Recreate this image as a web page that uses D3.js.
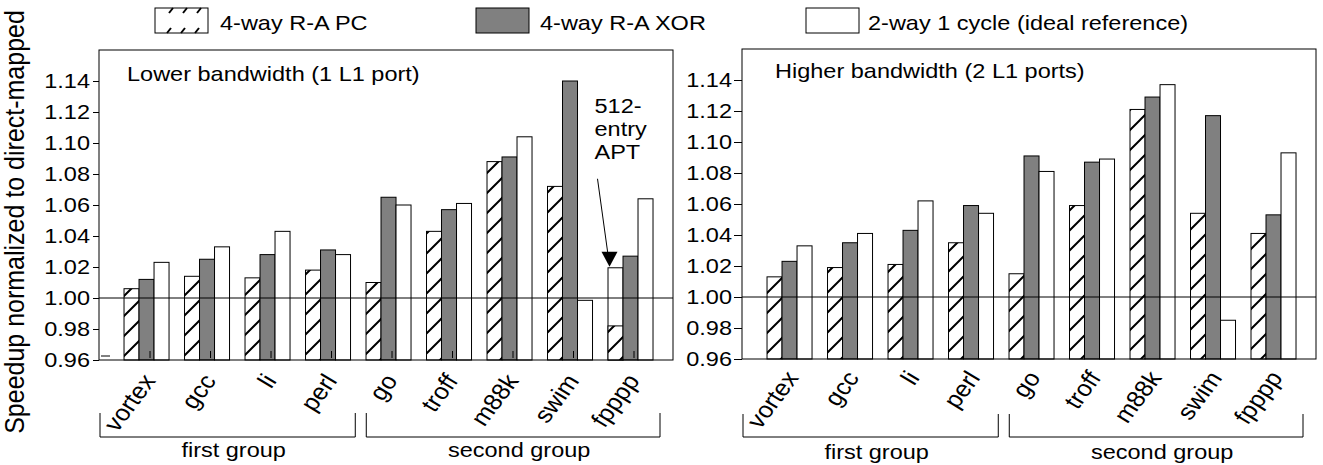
<!DOCTYPE html>
<html>
<head>
<meta charset="utf-8">
<script src="https://cdn.jsdelivr.net/npm/d3@7"></script>
<style>
  body { margin: 0; background: #fff; }
  text { font-family: "Liberation Sans", Arial, Helvetica, sans-serif; fill: #000; }
</style>
</head>
<body>
<div id="canvas"></div>
<script>
"use strict";

/* Configuration variables: drawing */
let svgWidth = 1323;
let svgHeight = 465;
let stretch = 1.12; // the original figure is a bit wider than tall
let fontSize = 21;

/* Data */
let categories = ["vortex", "gcc", "li", "perl", "go", "troff", "m88k", "swim", "fpppp"];
let seriesNames = ["4-way R-A PC", "4-way R-A XOR", "2-way 1 cycle (ideal reference)"];
let groupNames = ["first group", "second group"];
let groupFirst = ["vortex", "go"];
let groupLast = ["perl", "fpppp"];
let panelTitles = ["Lower bandwidth (1 L1 port)", "Higher bandwidth (2 L1 ports)"];
let yTicks = [0.96, 0.98, 1.00, 1.02, 1.04, 1.06, 1.08, 1.10, 1.12, 1.14];

let lowPC = [1.006, 1.014, 1.013, 1.018, 1.010, 1.043, 1.088, 1.072, 0.982];
let lowXOR = [1.012, 1.025, 1.028, 1.031, 1.065, 1.057, 1.091, 1.140, 1.027];
let lowIdeal = [1.023, 1.033, 1.043, 1.028, 1.060, 1.061, 1.104, 0.9985, 1.064];

let highPC = [1.013, 1.019, 1.021, 1.035, 1.015, 1.059, 1.121, 1.054, 1.041];
let highXOR = [1.023, 1.035, 1.043, 1.059, 1.091, 1.087, 1.129, 1.117, 1.053];
let highIdeal = [1.033, 1.041, 1.062, 1.054, 1.081, 1.089, 1.137, 0.985, 1.093];

/* 512-entry APT result for fpppp, lower bandwidth */
let aptCategory = "fpppp";
let aptValue = 1.0195;
let aptLines = ["512-", "entry", "APT"];

let fills = ["url(#hatch)", "#808080", "#ffffff"];

/* Create drawing canvas */
let svg = d3.select("#canvas")
  .append("svg")
  .attr("width", svgWidth)
  .attr("height", svgHeight);

/* Hatch pattern */
let pattern = svg.append("defs").append("pattern")
  .attr("id", "hatch")
  .attr("patternUnits", "userSpaceOnUse")
  .attr("width", 20)
  .attr("height", 20);
pattern.append("rect")
  .attr("width", 20)
  .attr("height", 20)
  .attr("fill", "#fff");
pattern.append("path")
  .attr("d", "M0,20 L20,0 M-3,3 L3,-3 M17,23 L23,17")
  .attr("stroke", "#000")
  .attr("stroke-width", 2);

/* helper: text that is stretched sideways like the source */
function putText(parent, x, y, str, anchor, extra, size) {
  return parent.append("text")
    .attr("transform", "translate(" + x + "," + y + ") scale(" + stretch + ",1)" + (extra || ""))
    .attr("text-anchor", anchor || "start")
    .attr("font-size", (size || fontSize) + "px")
    .text(str);
}

/* Legend */
let legendBoxX = [155, 476, 806];
let legendTextX = [220, 540, 868];
for (let i = 0; i < seriesNames.length; i = i + 1) {
  svg.append("rect")
    .attr("x", legendBoxX[i])
    .attr("y", 8)
    .attr("width", 53)
    .attr("height", 25)
    .attr("fill", i === 0 ? "#fff" : fills[i])
    .attr("stroke", "#000")
    .attr("stroke-width", 1);
  if (i === 0) {
    for (let k = 0; k < 3; k = k + 1) {
      let sx = legendBoxX[i] + 14 + k * 14;
      svg.append("line")
        .attr("x1", sx).attr("y1", 13).attr("x2", sx + 4).attr("y2", 8)
        .attr("stroke", "#000").attr("stroke-width", 2);
      svg.append("line")
        .attr("x1", sx - 2).attr("y1", 33).attr("x2", sx + 2).attr("y2", 28)
        .attr("stroke", "#000").attr("stroke-width", 2);
    }
  }
  putText(svg, legendTextX[i], 29.5, seriesNames[i]);
}

/* Y axis title */
svg.append("text")
  .attr("transform", "translate(24,222) scale(" + stretch + ",1) rotate(-90)")
  .attr("text-anchor", "middle")
  .attr("font-size", "25px")
  .text("Speedup normalized to direct-mapped");

/* Panels */
let panels = [
  { x0: 99, x1: 673, y0: 50, y1: 360, tick: 6, pad: 3, values: [lowPC, lowXOR, lowIdeal],
    titleX: 127, titleY: 81, innerTicks: true, labelY: 381, bracketY: 437, bracketTop: 413, groupY: 457 },
  { x0: 742, x1: 1316, y0: 49, y1: 359, tick: 8, pad: 2, values: [highPC, highXOR, highIdeal],
    titleX: 775, titleY: 78, innerTicks: false, labelY: 378, bracketY: 437, bracketTop: 414, groupY: 459 }
];

panels.forEach(function (p, pi) {
  let g = svg.append("g");

  let xScale = d3.scaleBand()
    .domain(categories)
    .range([p.x0, p.x1])
    .paddingInner(0.256)
    .paddingOuter(0.372)
    .align(0.556);

  let xSub = d3.scaleBand()
    .domain([0, 1, 2])
    .range([0, xScale.bandwidth()]);

  let yScale = d3.scaleLinear()
    .domain([0.96, 1.16])
    .range([p.y1, p.y0]);

  /* APT bar sits behind the PC bar */
  if (pi === 0) {
    g.append("rect")
      .attr("x", xScale(aptCategory) + xSub(0))
      .attr("y", yScale(aptValue))
      .attr("width", xSub.bandwidth())
      .attr("height", yScale(0.96) - yScale(aptValue))
      .attr("fill", "#fff")
      .attr("stroke", "#000")
      .attr("stroke-width", 1);
  }

  /* Bars */
  for (let s = 0; s < 3; s = s + 1) {
    g.selectAll(".bar" + s)
      .data(p.values[s])
      .enter()
      .append("rect")
      .attr("x", function (d, i) { return xScale(categories[i]) + xSub(s); })
      .attr("y", function (d) { return yScale(d); })
      .attr("width", xSub.bandwidth())
      .attr("height", function (d) { return yScale(0.96) - yScale(d); })
      .attr("fill", fills[s])
      .attr("stroke", "#000")
      .attr("stroke-width", 1);
  }

  /* Reference line at 1.00 */
  g.append("line")
    .attr("x1", p.x0).attr("x2", p.x1)
    .attr("y1", yScale(1.0)).attr("y2", yScale(1.0))
    .attr("stroke", "#000")
    .attr("stroke-width", 1);

  /* small category ticks inside the lower panel */
  if (p.innerTicks) {
    categories.forEach(function (c) {
      let tx = xScale(c) + xScale.bandwidth() / 2 + 3.5;
      g.append("line")
        .attr("x1", tx).attr("x2", tx)
        .attr("y1", p.y1 - 9).attr("y2", p.y1 - 2)
        .attr("stroke", "#000").attr("stroke-width", 1);
    });
    g.append("line")
      .attr("x1", p.x0 + 2).attr("x2", p.x0 + 11)
      .attr("y1", p.y1 - 4).attr("y2", p.y1 - 4)
      .attr("stroke", "#000").attr("stroke-width", 1);
  }

  /* Frame */
  g.append("rect")
    .attr("x", p.x0)
    .attr("y", p.y0)
    .attr("width", p.x1 - p.x0)
    .attr("height", p.y1 - p.y0)
    .attr("fill", "none")
    .attr("stroke", "#000")
    .attr("stroke-width", 1);

  /* Y axis */
  let yAxis = g.append("g")
    .attr("transform", "translate(" + p.x0 + ",0)")
    .call(d3.axisLeft(yScale)
      .tickValues(yTicks)
      .tickFormat(d3.format(".2f"))
      .tickSize(p.tick)
      .tickPadding(p.pad));
  yAxis.select(".domain").remove();
  yAxis.selectAll("text")
    .attr("font-size", fontSize + "px")
    .attr("font-family", "Liberation Sans, Arial, sans-serif")
    .attr("fill", "#000")
    .attr("x", -(p.tick + p.pad) / stretch)
    .attr("transform", "scale(" + stretch + ",1)");

  /* Panel title */
  putText(g, p.titleX, p.titleY, panelTitles[pi]);

  /* Category labels */
  categories.forEach(function (c) {
    putText(g, xScale(c) + xScale.bandwidth() / 2 + 10, p.labelY, c, "end", " rotate(-56)", 23);
  });

  /* Group brackets */
  for (let k = 0; k < groupNames.length; k = k + 1) {
    let bx0, bx1;
    if (k === 0) {
      bx0 = p.x0 + 1;
      bx1 = (xScale(groupLast[0]) + xScale.bandwidth() + xScale(groupFirst[1])) / 2 - 3;
    } else {
      bx0 = (xScale(groupLast[0]) + xScale.bandwidth() + xScale(groupFirst[1])) / 2 + 8;
      bx1 = xScale(groupLast[1]) + xScale.bandwidth() + 7;
    }
    g.append("path")
      .attr("d", "M" + bx0 + "," + p.bracketTop + " V" + p.bracketY + " H" + bx1 + " V" + p.bracketTop)
      .attr("fill", "none")
      .attr("stroke", "#000")
      .attr("stroke-width", 1);
    putText(g, (bx0 + bx1) / 2 + 6, p.groupY, groupNames[k], "middle");
  }

  /* Annotation for the APT bar */
  if (pi === 0) {
    let tipX = xScale(aptCategory) + xSub(0) + 1.5;
    let tipY = yScale(aptValue) - 1;
    g.append("line")
      .attr("x1", tipX - 12).attr("y1", tipY - 88)
      .attr("x2", tipX - 1.5).attr("y2", tipY - 12)
      .attr("stroke", "#000").attr("stroke-width", 1);
    g.append("path")
      .attr("d", "M" + (tipX - 8) + "," + (tipY - 15) + " L" + (tipX + 8) + "," + (tipY - 15) + " L" + tipX + "," + tipY + " Z")
      .attr("fill", "#000");
    aptLines.forEach(function (t, i) {
      putText(g, tipX - 15, tipY - 154 + i * 23, t);
    });
  }
});
</script>
</body>
</html>
